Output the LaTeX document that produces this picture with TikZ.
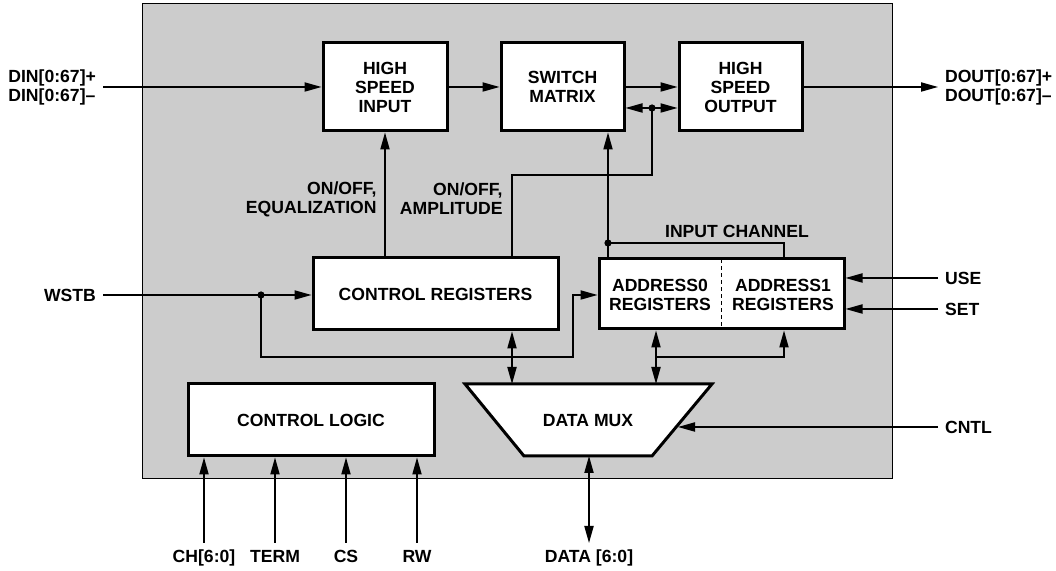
\documentclass[tikz,border=0pt]{standalone}
\usepackage{fontspec}
\setmainfont{Liberation Sans}
\usepackage{xcolor}
\usetikzlibrary{arrows.meta}
\definecolor{panelgray}{RGB}{204,204,204}
\tikzset{blockbox/.style={draw,fill=white,line width=1.5pt,
        font=\bfseries\fontsize{8.8}{9.5}\selectfont,align=center,inner sep=0pt},
    lbl/.style={font=\bfseries\fontsize{8.8}{9.5}\selectfont,align=center},
    wire/.style={line width=0.65pt},
    arr/.style={wire,-{Triangle[length=8.5pt,width=4.6pt]}},
    dbl/.style={wire,{Triangle[length=8.5pt,width=4.6pt]}-{Triangle[length=8.5pt,width=4.6pt]}}}

\begin{document}
\begin{tikzpicture}[x=0.5pt,y=-0.5pt]
\useasboundingbox (0,0) rectangle (1056,571);
\draw[fill=panelgray,line width=0.5pt] (142,4) rectangle (892,479);

\node[blockbox,minimum width=62pt,minimum height=44pt] (hsi) at (385,87) {HIGH\\SPEED\\INPUT};
\node[blockbox,minimum width=61.5pt,minimum height=44pt] (sm) at (562.5,87) {SWITCH\\MATRIX};
\node[blockbox,minimum width=61.5pt,minimum height=44pt] (hso) at (740.5,87) {HIGH\\SPEED\\OUTPUT};
\node[blockbox,minimum width=122.5pt,minimum height=36pt] (creg) at (435.5,294) {CONTROL REGISTERS};
\node[blockbox,minimum width=122.5pt,minimum height=35pt] (addr) at (721.5,294) {};
\node[lbl] (a0) at (660,295) {ADDRESS0\\REGISTERS};
\node[lbl] (a1) at (783,295) {ADDRESS1\\REGISTERS};
\draw[wire,dash pattern=on 2pt off 1.5pt] ([yshift=-1pt]addr.north) -- ([yshift=1pt]addr.south);
\node[blockbox,minimum width=123pt,minimum height=36pt] (clog) at (311,420) {CONTROL LOGIC};
\draw[line width=1.5pt,fill=white] (465,384) coordinate (mtl) -- (712,384) -- (652,456) -- (524,456) -- cycle;
\node[lbl] (mux) at (588,421) {DATA MUX};

\node[lbl,anchor=east,align=left] (din) at (103,87) {DIN[0:67]+\\DIN[0:67]–};
\node[lbl,anchor=west,align=left] (dout) at (938,87) {DOUT[0:67]+\\DOUT[0:67]–};
\node[lbl,anchor=east] (wstb) at (103,295) {WSTB};
\node[lbl,anchor=west] (use) at (938,278) {USE};
\node[lbl,anchor=west] (set) at (938,309) {SET};
\node[lbl,anchor=west] (cntl) at (938,427) {CNTL};
\node[lbl,anchor=north] (ch) at (204,543) {CH[6:0]};
\node[lbl,anchor=north] (term) at (275,543) {TERM};
\node[lbl,anchor=north] (cs) at (346,543) {CS};
\node[lbl,anchor=north] (rw) at (417,543) {RW};
\node[lbl,anchor=north] (data) at (589,543) {DATA [6:0]};
\node[lbl,anchor=east,align=right,inner sep=0pt] (eql) at (377,199) {ON/OFF,\\EQUALIZATION};
\node[lbl,anchor=east,align=right,inner sep=0pt] (ampl) at (503,199) {ON/OFF,\\AMPLITUDE};
\node[lbl] (inch) at (737,231) {INPUT CHANNEL};

\coordinate (jd) at (652,108);
\coordinate (amp) at (512,175);
\coordinate (jc) at (608,243);
\coordinate (ab) at (784,357);
\coordinate (ad) at (656,357);
\coordinate (jw) at (261,295);
\coordinate (lp) at (573,357);
\coordinate (mr) at (678,427);
\coordinate (mb) at (589,456);

\draw[arr] (din.east) -- (hsi.west);
\draw[arr] (hsi.east) -- (sm.west);
\draw[arr] (sm.east) -- (hso.west);
\draw[arr] (hso.east) -- (dout.west);
\draw[arr] (jd) -- (sm.east |- jd);
\draw[arr] (jd) -- (hso.west |- jd);
\draw[wire] (creg.north -| amp) -- (amp) -- (amp -| jd) -- (jd);
\draw[arr] (creg.north -| hsi) -- (hsi.south);
\draw[arr] (addr.north -| jc) -- (sm.south -| jc);
\draw[wire] (jc) -- (jc -| ab) -- (addr.north -| ab);
\draw[wire] (wstb.east) -- (jw);
\draw[arr] (jw) -- (creg.west |- jw);
\draw[arr] (jw) -- (jw |- lp) -- (lp) -- (lp |- jw) -- (addr.west |- jw);
\draw[dbl] (creg.south -| amp) -- (amp |- mtl);
\draw[dbl] (addr.south -| ad) -- (ad |- mtl);
\draw[arr] (ad) -- (ab) -- (addr.south -| ab);
\draw[arr] (use.west) -- (addr.east |- use);
\draw[arr] (set.west) -- (addr.east |- set);
\draw[arr] (cntl.west) -- (mr);
\draw[dbl] (mb) -- (data.north);
\foreach \s in {ch,term,cs,rw}
    \draw[arr] (\s.north) -- (clog.south -| \s);
\foreach \p in {jd,jc,jw}
    \fill (\p) circle (1.8pt);
\end{tikzpicture}
\end{document}
